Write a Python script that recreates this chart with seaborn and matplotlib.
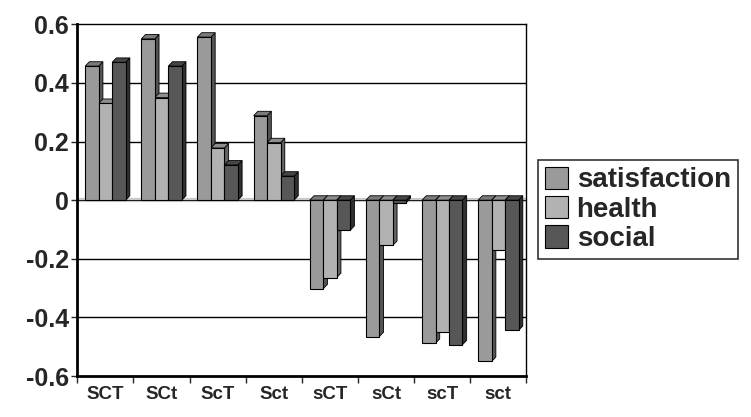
import numpy as np
import pandas as pd
import matplotlib
matplotlib.use("Agg")
import matplotlib.pyplot as plt
import matplotlib.colors as mcolors
from matplotlib.patches import Polygon
import seaborn as sns

# values
categories = ["SCT", "SCt", "ScT", "Sct", "sCT", "sCt", "scT", "sct"]
series = ["satisfaction", "health", "social"]
satisfaction = [0.457, 0.55, 0.556, 0.288, -0.302, -0.465, -0.488, -0.55]
health = [0.33, 0.35, 0.178, 0.196, -0.264, -0.154, -0.45, -0.171]
social = [0.47, 0.457, 0.12, 0.082, -0.103, -0.008, -0.493, -0.444]
colors = ["#9a9a9a", "#b2b2b2", "#575757"]
y_ticks = [-0.6, -0.4, -0.2, 0, 0.2, 0.4, 0.6]
y_labels = ["-0.6", "-0.4", "-0.2", "0", "0.2", "0.4", "0.6"]

df = pd.DataFrame({
    "group": categories * 3,
    "series": ["satisfaction"] * 8 + ["health"] * 8 + ["social"] * 8,
    "value": satisfaction + health + social,
})

sns.set_style("white")
plt.rcParams["font.family"] = ["Liberation Sans", "DejaVu Sans"]
plt.rcParams["font.weight"] = "bold"

fig = plt.figure(figsize=(7.51, 4.17), dpi=100)
ax = fig.add_axes([0.103, 0.098, 0.598, 0.844])

sns.barplot(data=df, x="group", y="value", hue="series", order=categories,
            hue_order=series, palette=colors, width=0.72, edgecolor="black",
            linewidth=0.8, saturation=1, ax=ax, zorder=2)

# fake 3d depth for the bars, taken from the drawn patches
dx, dy = 0.075, 0.015
bars = [p for p in ax.patches if p.get_height() != 0 or p.get_width() != 0][:24]
for p in bars:
    x, w = p.get_x(), p.get_width()
    y0 = min(p.get_y(), p.get_y() + p.get_height())
    y1 = max(p.get_y(), p.get_y() + p.get_height())
    fc = np.array(mcolors.to_rgb(p.get_facecolor()))
    side = Polygon([(x + w, y0), (x + w + dx, y0 + dy), (x + w + dx, y1 + dy), (x + w, y1)],
                   closed=True, facecolor=fc * 0.55, edgecolor="black", linewidth=0.6, zorder=1.5)
    top = Polygon([(x, y1), (x + dx, y1 + dy), (x + w + dx, y1 + dy), (x + w, y1)],
                  closed=True, facecolor=fc * 0.8, edgecolor="black", linewidth=0.6, zorder=1.5)
    ax.add_patch(side)
    ax.add_patch(top)

ax.set_ylim(-0.6, 0.6)
ax.set_xlim(-0.5, len(categories) - 0.5)
for yv in [-0.4, -0.2, 0.2, 0.4]:
    ax.axhline(yv, color="black", linewidth=1, zorder=0.5)
ax.axhline(0, color="#c8c8c8", linewidth=3, zorder=1)
ax.axhline(0, color="black", linewidth=0.6, zorder=1.2)

ax.set_yticks(y_ticks)
ax.set_yticklabels(y_labels, fontsize=18, fontweight="bold")
ax.tick_params(axis="y", direction="out", length=4, width=1, pad=2, left=True)
ax.set_xticks(range(len(categories)))
ax.set_xticklabels(categories, fontsize=13.5, fontweight="bold")
ax.set_xticks(np.arange(-0.5, len(categories), 1), minor=True)
ax.tick_params(axis="x", which="major", length=0, pad=7)
ax.tick_params(axis="x", which="minor", direction="out", length=5, width=1, bottom=True)
ax.set_xlabel("")
ax.set_ylabel("")

for s in ax.spines.values():
    s.set_color("black")
    s.set_linewidth(1)
ax.spines["left"].set_linewidth(2)
ax.spines["bottom"].set_linewidth(2)

leg = ax.legend(loc="center left", bbox_to_anchor=(0.716, 0.498), bbox_transform=fig.transFigure,
                frameon=True, fancybox=False, edgecolor="black", fontsize=20,
                handlelength=0.85, handleheight=0.85, handletextpad=0.3,
                labelspacing=0.1, borderpad=0.25, borderaxespad=0)
leg.get_frame().set_linewidth(1.2)
for t in leg.get_texts():
    t.set_fontweight("bold")

fig.savefig("out.png", dpi=100)
